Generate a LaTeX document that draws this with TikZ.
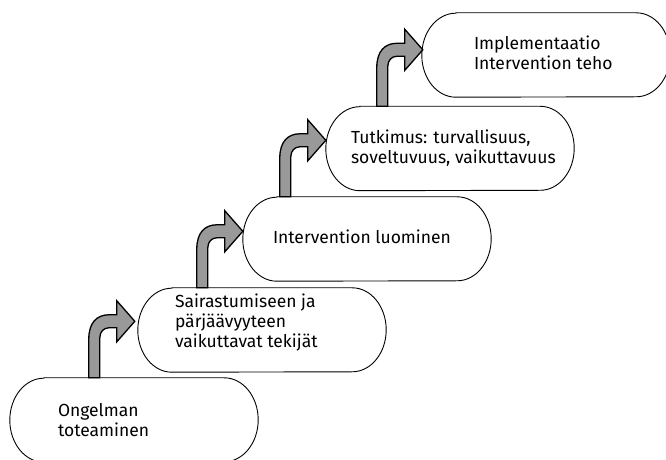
\documentclass[tikz,border=0pt]{standalone}
\usepackage{fontspec}
\setmainfont{Fira Sans}

\begin{document}
\begin{tikzpicture}
[x=1pt, y=1pt,
 stage/.style={minimum width=248pt, minimum height=84pt, inner sep=0pt},
 stagetext/.style={anchor=west, align=left, inner sep=0pt, font=\fontsize{17.5}{20}\selectfont},
 stepfill/.style={fill=black!40, draw=black, line width=1.3pt, line join=miter},
 bentarrow/.pic={
   \draw [stepfill] (0,0) -- (0,39) .. controls (0,55) and (8,63) .. (20,63) -- (28,63) -- (28,77)
     -- (46,56.5) -- (28,36) -- (28,50) -- (20,50) .. controls (15,50) and (11,46) .. (11,40) -- (11,0) -- cycle;
 }]
\useasboundingbox (0,0) rectangle (666,460);
\clip (0,0) rectangle (666,460);

\node (ongelma) [stage] at (134, 40) {};
\node (tekijat) [stage] at (262, 130) {};
\node (luominen) [stage] at (367, 221) {};
\node (tutkimus) [stage] at (450, 311.5) {};
\node (implementaatio) [stage] at (546, 405) {};

% rounded outlines with flat elliptic ends
\foreach \s in {ongelma, tekijat, luominen, tutkimus, implementaatio}
  \draw [line width=0.9pt] ([xshift=34pt]\s.north west) -- ([xshift=-34pt]\s.north east)
    arc [start angle=90, end angle=-90, x radius=34pt, y radius=42pt]
    -- ([xshift=34pt]\s.south west)
    arc [start angle=270, end angle=90, x radius=34pt, y radius=42pt] -- cycle;

\node (ongelmatext) [stagetext] at ([xshift=48pt]ongelma.west) {Ongelman\\toteaminen};
\node (tekijattext) [stagetext] at ([xshift=37pt, yshift=7pt]tekijat.west) {Sairastumiseen ja\\pärjäävyyteen\\vaikuttavat tekijät};
\node (luominentext) [stagetext] at ([xshift=30pt, yshift=2pt]luominen.west) {Intervention luominen};
\node (tutkimustext) [stagetext] at ([xshift=25pt]tutkimus.west) {Tutkimus: turvallisuus,\\soveltuvuus, vaikuttavuus};
\node (implementaatiotext) [stagetext] at ([xshift=52pt, yshift=2pt]implementaatio.west) {Implementaatio\\Intervention teho};

% arrows from one stage up to the next
\pic at ([xshift=79pt]ongelma.north west) {bentarrow};
\pic at ([xshift=59pt]tekijat.north west) {bentarrow};
\pic at ([xshift=37pt]luominen.north west) {bentarrow};
\pic at ([xshift=51pt]tutkimus.north west) {bentarrow};
\end{tikzpicture}
\end{document}
